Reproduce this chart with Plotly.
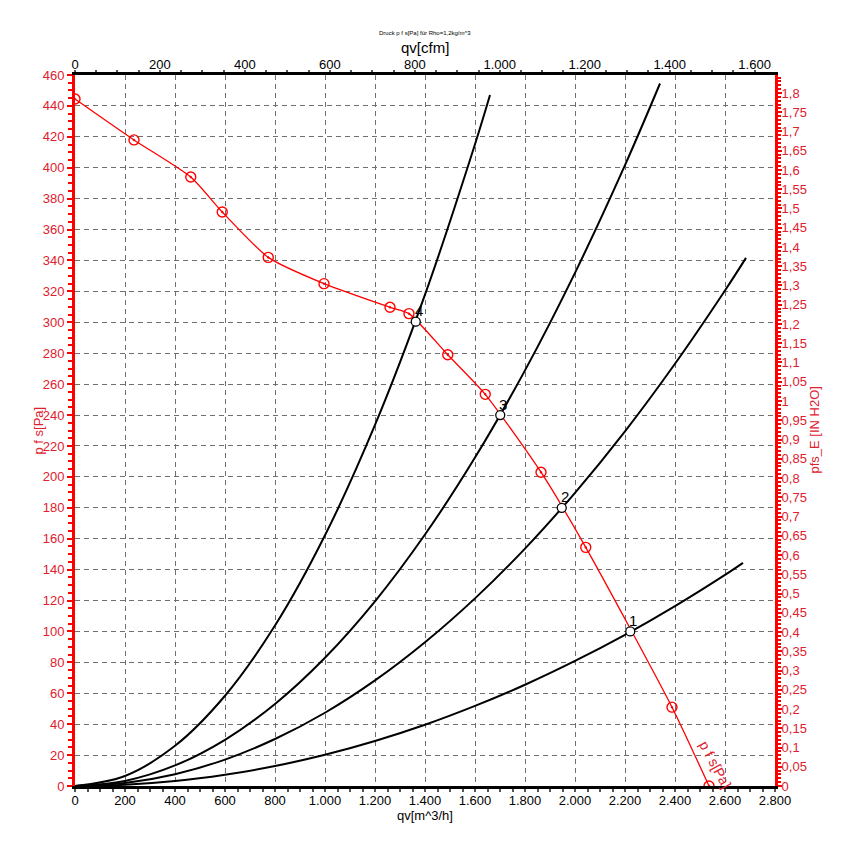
import plotly.graph_objects as go

# ---- data ----
qv_curve = [0, 236, 463, 589, 773, 996, 1260, 1336, 1491, 1641, 1864, 2043, 2388, 2536]
pfs_curve = [444.5, 418, 394, 371.4, 342, 325, 309.7, 305.6, 279, 253.4, 203, 154.4, 51, 0]

op_qv = [2221, 1947, 1701, 1363]
op_pfs = [100, 180, 240, 300.4]
op_labels = ["1", "2", "3", "4"]

sys1_qv = [0, 200, 400, 600, 800, 1000, 1200, 1400, 1600, 1800, 2000, 2200, 2400, 2600, 2672]
sys1_p = [0, 0.8, 3.2, 7.3, 12.9, 20.2, 29.1, 39.6, 51.8, 65.5, 80.9, 97.8, 116.4, 136.6, 144.4]
sys2_qv = [0, 200, 400, 600, 800, 1000, 1200, 1400, 1600, 1800, 2000, 2200, 2400, 2600, 2684]
sys2_p = [0, 1.9, 7.6, 17.1, 30.4, 47.4, 68.3, 93, 121.4, 153.6, 189.7, 229.5, 273.2, 320.6, 341.7]
sys3_qv = [0, 200, 400, 600, 800, 1000, 1200, 1400, 1600, 1800, 2000, 2200, 2340]
sys3_p = [0, 3.3, 13.3, 29.9, 53.1, 83, 119.5, 162.7, 212.5, 268.9, 332, 401.7, 454.5]
sys4_qv = [0, 200, 400, 600, 800, 1000, 1200, 1400, 1600, 1660]
sys4_p = [0, 6.5, 26, 58.4, 103.8, 162.2, 233.6, 317.9, 415.2, 447]

x_ticks = [0, 200, 400, 600, 800, 1000, 1200, 1400, 1600, 1800, 2000, 2200, 2400, 2600, 2800]
x_ticktext = ["0", "200", "400", "600", "800", "1.000", "1.200", "1.400", "1.600", "1.800",
              "2.000", "2.200", "2.400", "2.600", "2.800"]
cfm_ticks = [0, 200, 400, 600, 800, 1000, 1200, 1400, 1600]
cfm_ticktext = ["0", "200", "400", "600", "800", "1.000", "1.200", "1.400", "1.600"]
inh2o_ticks = [round(i * 0.05, 2) for i in range(0, 37)]
inh2o_ticktext = [("%g" % v).replace(".", ",") for v in inh2o_ticks]

M3H_PER_CFM = 1.69901
PA_PER_INH2O = 249.089

RED = "#ff0000"
LABEL_RED = "#e0202e"
FONT = "Liberation Sans, Arial, sans-serif"

fig = go.Figure()

for qx, py in [(sys1_qv, sys1_p), (sys2_qv, sys2_p), (sys3_qv, sys3_p), (sys4_qv, sys4_p)]:
    fig.add_trace(go.Scatter(x=qx, y=py, mode="lines", line=dict(color="black", width=2, shape="spline"),
                             hoverinfo="skip", showlegend=False))

fig.add_trace(go.Scatter(x=qv_curve, y=pfs_curve, mode="lines+markers",
                         line=dict(color=RED, width=1.3, shape="spline", smoothing=0.6),
                         marker=dict(symbol="circle-open-dot", size=10, color=RED, line=dict(width=1.4)),
                         showlegend=False))

fig.add_trace(go.Scatter(x=op_qv, y=op_pfs, mode="markers",
                         marker=dict(symbol="circle", size=9, color="white", line=dict(color="black", width=1.3)),
                         showlegend=False))

# dummy traces to activate secondary axes
fig.add_trace(go.Scatter(x=[0], y=[0], xaxis="x2", yaxis="y", mode="markers",
                         marker=dict(opacity=0), showlegend=False, hoverinfo="skip"))
fig.add_trace(go.Scatter(x=[0], y=[0], xaxis="x", yaxis="y2", mode="markers",
                         marker=dict(opacity=0), showlegend=False, hoverinfo="skip"))

for qx, py, lab in zip(op_qv, op_pfs, op_labels):
    fig.add_annotation(x=qx, y=py, text=lab, showarrow=False, xshift=3, yshift=11,
                       font=dict(family=FONT, size=15, color="black"))

fig.add_annotation(x=qv_curve[-1], y=pfs_curve[-1], text="p f s[Pa]", showarrow=False,
                   textangle=62, xshift=6, yshift=22, font=dict(family=FONT, size=14, color=LABEL_RED))

# titles
fig.add_annotation(xref="paper", yref="paper", x=0.5, y=1, yanchor="middle", yshift=42,
                   text="Druck p f s[Pa] für Rho=1,2kg/m^3", showarrow=False,
                   font=dict(family=FONT, size=6, color="black"))
fig.add_annotation(xref="paper", yref="paper", x=0.5, y=1, yanchor="middle", yshift=28,
                   text="qv[cfm]", showarrow=False, font=dict(family=FONT, size=15, color="black"))
fig.add_annotation(xref="paper", yref="paper", x=0.5, y=0, yanchor="middle", yshift=-29,
                   text="qv[m^3/h]", showarrow=False, font=dict(family=FONT, size=13, color="black"))
fig.add_annotation(xref="paper", yref="paper", x=0, y=0.5, xanchor="center", yanchor="middle",
                   xshift=-37, textangle=-90, text="p f s[Pa]", showarrow=False,
                   font=dict(family=FONT, size=13, color=LABEL_RED))
fig.add_annotation(xref="paper", yref="paper", x=1, y=0.5, xanchor="center", yanchor="middle",
                   xshift=39, textangle=-90, text="pfs_E [IN H2O]", showarrow=False,
                   font=dict(family=FONT, size=13, color=LABEL_RED))

grid = dict(showgrid=True, gridcolor="#707070", gridwidth=1.3, griddash="5px,4px")

fig.update_layout(
    width=856, height=862,
    margin=dict(l=67, r=89, t=67, b=84),
    paper_bgcolor="white", plot_bgcolor="white",
    font=dict(family=FONT, size=13, color="black"),
    showlegend=False,
    xaxis=dict(range=[0, 2800], tickvals=x_ticks, ticktext=x_ticktext, **grid,
               showline=True, linecolor="black", linewidth=3, ticks="outside", ticklen=3,
               tickcolor="#555", tickwidth=1.5, ticklabelstandoff=-3,
               minor=dict(dtick=50, ticks="outside", ticklen=3, tickcolor="#555", showgrid=False),
               tickfont=dict(size=13), zeroline=False),
    xaxis2=dict(range=[0, 2800 / M3H_PER_CFM], overlaying="x", side="top",
                tickvals=cfm_ticks, ticktext=cfm_ticktext, showgrid=False,
                showline=True, linecolor="black", linewidth=2.5, ticks="outside", ticklen=2,
                tickcolor="#555", tickwidth=1.5, ticklabelstandoff=-4,
                minor=dict(dtick=50, ticks="outside", ticklen=2, tickcolor="#555"),
                tickfont=dict(size=13), zeroline=False),
    yaxis=dict(range=[0, 460], dtick=20, **grid,
               showline=True, linecolor=RED, linewidth=3, ticks="outside", ticklen=5,
               tickcolor=RED, tickwidth=1.5,
               minor=dict(dtick=5, ticks="outside", ticklen=4, tickcolor=RED, showgrid=False),
               tickfont=dict(size=13, color=LABEL_RED),
               zeroline=False),
    yaxis2=dict(range=[0, 460 / PA_PER_INH2O], overlaying="y", side="right",
                tickvals=inh2o_ticks, ticktext=inh2o_ticktext, showgrid=False,
                showline=True, linecolor=RED, linewidth=3, ticks="outside", ticklen=4,
                tickcolor=RED, tickwidth=1.5, ticklabelstandoff=-3,
                minor=dict(dtick=0.01, ticks="outside", ticklen=3, tickcolor=RED),
                tickfont=dict(size=13, color=LABEL_RED),
                zeroline=False),
)

fig.write_html("out.html")
